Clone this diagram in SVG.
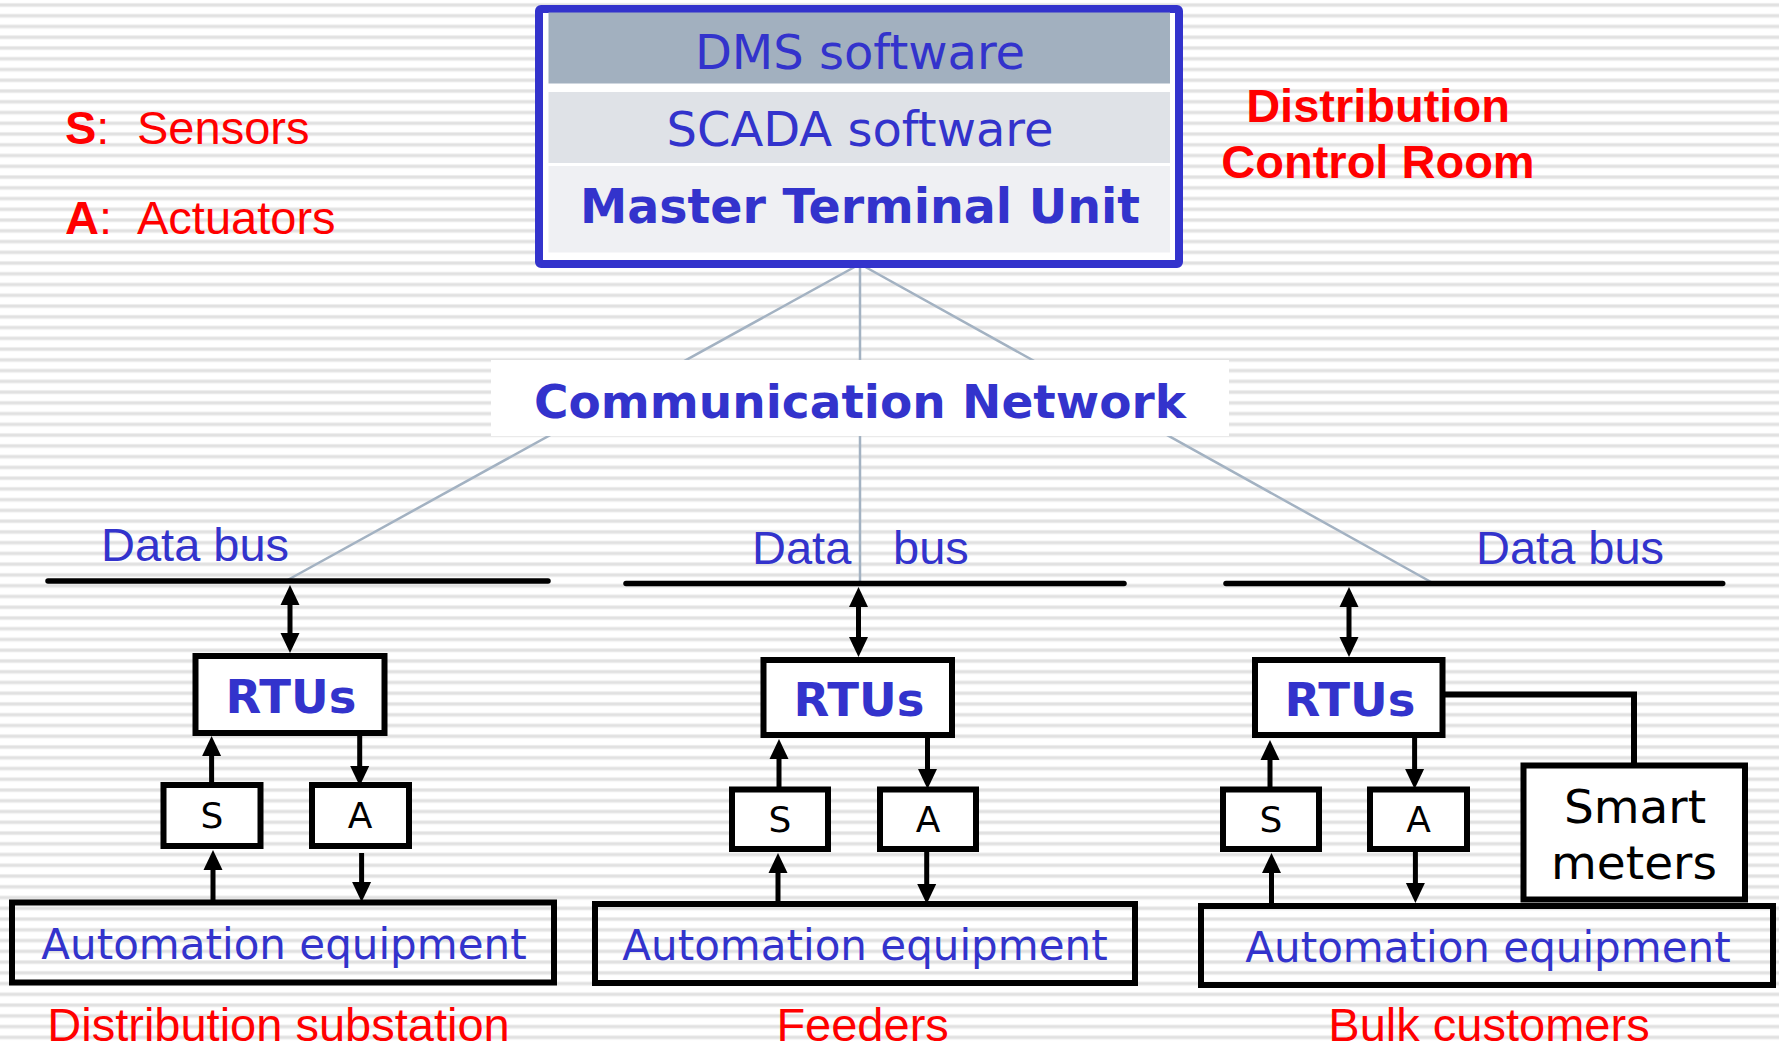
<svg xmlns="http://www.w3.org/2000/svg" width="1779" height="1045" viewBox="0 0 1779 1045">
<defs>
  <pattern id="stripes" x="0" y="0" width="40" height="10.754" patternUnits="userSpaceOnUse">
    <rect width="40" height="10.754" fill="#ffffff"/>
    <rect y="2.9" width="40" height="4.2" fill="#efefef"/>
    <rect y="3.8" width="40" height="2.4" fill="#e1e1e1"/>
  </pattern>
  <marker id="ah" viewBox="0 0 20 20" refX="10" refY="10" markerWidth="20" markerHeight="20" markerUnits="userSpaceOnUse" orient="auto-start-reverse">
    <path d="M0,0.5 L20,10 L0,19.5 z" fill="#000"/>
  </marker>
  <style>
    .box{fill:#ffffff;stroke:#000;stroke-width:6;stroke-linejoin:miter}
    .auto{fill:none;stroke:#000;stroke-width:6}
    .bus{stroke:#000;stroke-width:5.5;stroke-linecap:round}
    .arr{stroke:#000;stroke-width:5;fill:none;marker-end:url(#ah)}
    .bi{stroke:#000;stroke-width:5;fill:none;marker-start:url(#ah);marker-end:url(#ah)}
    .net{stroke:#a3b2c2;stroke-width:2.5;fill:none}
    .dv{font-family:"DejaVu Sans","Verdana",sans-serif}
    .ar{font-family:"Liberation Sans",Arial,sans-serif}
    .blue{fill:#3333cc}
    .red{fill:#ff0000}
    .blk{fill:#000}
    .mid{text-anchor:middle}
  </style>
</defs>

<rect x="0" y="0" width="1779" height="1045" fill="url(#stripes)"/>

<g id="connectors">
  <line class="net" x1="860" y1="264" x2="284" y2="582"/>
  <line class="net" x1="860" y1="264" x2="860" y2="583"/>
  <line class="net" x1="860" y1="264" x2="1431" y2="582"/>
  <!-- left -->
  <line class="bi" x1="290" y1="595" x2="290" y2="643"/>
  <line class="arr" x1="211.6" y1="783" x2="211.6" y2="746"/>
  <line class="arr" x1="359.7" y1="736" x2="359.7" y2="776"/>
  <line class="arr" x1="213" y1="901" x2="213" y2="860"/>
  <line class="arr" x1="361.6" y1="853" x2="361.6" y2="892"/>
  <!-- middle -->
  <line class="bi" x1="858.5" y1="597" x2="858.5" y2="647"/>
  <line class="arr" x1="779" y1="788" x2="779" y2="749"/>
  <line class="arr" x1="927.5" y1="738" x2="927.5" y2="779"/>
  <line class="arr" x1="778" y1="903" x2="778" y2="863"/>
  <line class="arr" x1="926.7" y1="851" x2="926.7" y2="894"/>
  <!-- right -->
  <line class="bi" x1="1349" y1="597" x2="1349" y2="647"/>
  <line class="arr" x1="1270" y1="788" x2="1270" y2="750"/>
  <line class="arr" x1="1414.6" y1="738" x2="1414.6" y2="779"/>
  <line class="arr" x1="1271.5" y1="905" x2="1271.5" y2="863"/>
  <line class="arr" x1="1415.4" y1="851" x2="1415.4" y2="893"/>
  <path d="M1445,694.6 H1634 V766" fill="none" stroke="#000" stroke-width="6"/>
</g>

<g id="legend">
  <text class="ar red" x="65" y="143.5" font-size="47"><tspan font-weight="bold">S</tspan>:<tspan x="137">Sensors</tspan></text>
  <text class="ar red" x="65" y="233.5" font-size="47"><tspan font-weight="bold">A</tspan>:<tspan x="137">Actuators</tspan></text>
</g>

<g id="control-room-label">
  <text class="ar red mid" x="1378" y="121.7" font-size="47" font-weight="bold">Distribution</text>
  <text class="ar red mid" x="1378" y="178.3" font-size="47" font-weight="bold">Control Room</text>
</g>

<g id="mtu">
  <rect x="539" y="9" width="640" height="255" rx="2" fill="#ffffff" stroke="#3333cc" stroke-width="8"/>
  <rect x="548.5" y="12.5" width="621.5" height="71" fill="#a2b0bf"/>
  <rect x="548.5" y="92" width="621.5" height="71" fill="#dfe2e7"/>
  <rect x="548.5" y="166" width="621.5" height="86.5" fill="#eff0f3"/>
  <text class="dv blue mid" x="860" y="68.7" font-size="48">DMS software</text>
  <text class="dv blue mid" x="860" y="146.4" font-size="48">SCADA software</text>
  <text class="dv blue mid" x="860" y="222.8" font-size="47.5" font-weight="bold">Master Terminal Unit</text>
</g>

<g id="comm-network">
  <rect x="491" y="360" width="738" height="76" fill="#ffffff"/>
  <text class="dv blue mid" x="860" y="417.5" font-size="47" font-weight="bold">Communication Network</text>
</g>

<!-- left: distribution substation -->
<g id="bus-left">
  <line class="bus" x1="48" y1="581" x2="548" y2="581"/>
  <text class="ar blue" x="101" y="561" font-size="47">Data bus</text>
</g>
<g id="rtu-left">
  <rect class="box" x="195.5" y="656" width="189" height="77"/>
  <text class="dv blue mid" x="291" y="712.7" font-size="46.5" font-weight="bold">RTUs</text>
</g>
<g id="s-left">
  <rect class="box" x="163.5" y="785" width="97" height="61"/>
  <text class="dv blk mid" x="212" y="828.4" font-size="36">S</text>
</g>
<g id="a-left">
  <rect class="box" x="312" y="785" width="97" height="61"/>
  <text class="dv blk mid" x="360" y="828.4" font-size="36">A</text>
</g>
<g id="auto-left">
  <rect class="auto" x="12" y="902.5" width="542" height="80"/>
  <text class="dv blue mid" x="284" y="958.7" font-size="42">Automation equipment</text>
</g>
<g id="label-left">
  <text class="ar red mid" x="278.5" y="1041" font-size="47">Distribution substation</text>
</g>

<!-- middle: feeders -->
<g id="bus-middle">
  <line class="bus" x1="626" y1="583.4" x2="1124" y2="583.4"/>
  <text class="ar blue" x="752" y="563.5" font-size="47">Data<tspan x="893">bus</tspan></text>
</g>
<g id="rtu-middle">
  <rect class="box" x="763.5" y="660" width="188.5" height="75"/>
  <text class="dv blue mid" x="859" y="716" font-size="46.5" font-weight="bold">RTUs</text>
</g>
<g id="s-middle">
  <rect class="box" x="732" y="789.5" width="96" height="59.5"/>
  <text class="dv blk mid" x="780" y="832" font-size="36">S</text>
</g>
<g id="a-middle">
  <rect class="box" x="880" y="789.5" width="96" height="59.5"/>
  <text class="dv blk mid" x="928" y="832" font-size="36">A</text>
</g>
<g id="auto-middle">
  <rect class="auto" x="595" y="904" width="540" height="79"/>
  <text class="dv blue mid" x="865" y="960" font-size="42">Automation equipment</text>
</g>
<g id="label-middle">
  <text class="ar red mid" x="862.6" y="1041" font-size="47">Feeders</text>
</g>

<!-- right: bulk customers -->
<g id="bus-right">
  <line class="bus" x1="1226" y1="583.4" x2="1722.7" y2="583.4"/>
  <text class="ar blue" x="1476" y="564" font-size="47">Data bus</text>
</g>
<g id="rtu-right">
  <rect class="box" x="1255" y="660" width="187.5" height="75"/>
  <text class="dv blue mid" x="1350" y="716" font-size="46.5" font-weight="bold">RTUs</text>
</g>
<g id="s-right">
  <rect class="box" x="1223" y="789.5" width="96" height="59.5"/>
  <text class="dv blk mid" x="1271" y="832" font-size="36">S</text>
</g>
<g id="a-right">
  <rect class="box" x="1370" y="789.5" width="97" height="59.5"/>
  <text class="dv blk mid" x="1418.5" y="832" font-size="36">A</text>
</g>
<g id="smart-meters">
  <rect class="box" x="1523.5" y="765.5" width="221.5" height="134"/>
  <text class="dv blk mid" x="1635" y="822.5" font-size="47">Smart</text>
  <text class="dv blk mid" x="1634" y="879" font-size="47">meters</text>
</g>
<g id="auto-right">
  <rect class="auto" x="1201" y="906" width="572" height="79"/>
  <text class="dv blue mid" x="1488" y="962" font-size="42">Automation equipment</text>
</g>
<g id="label-right">
  <text class="ar red mid" x="1489" y="1041" font-size="47">Bulk customers</text>
</g>
</svg>
